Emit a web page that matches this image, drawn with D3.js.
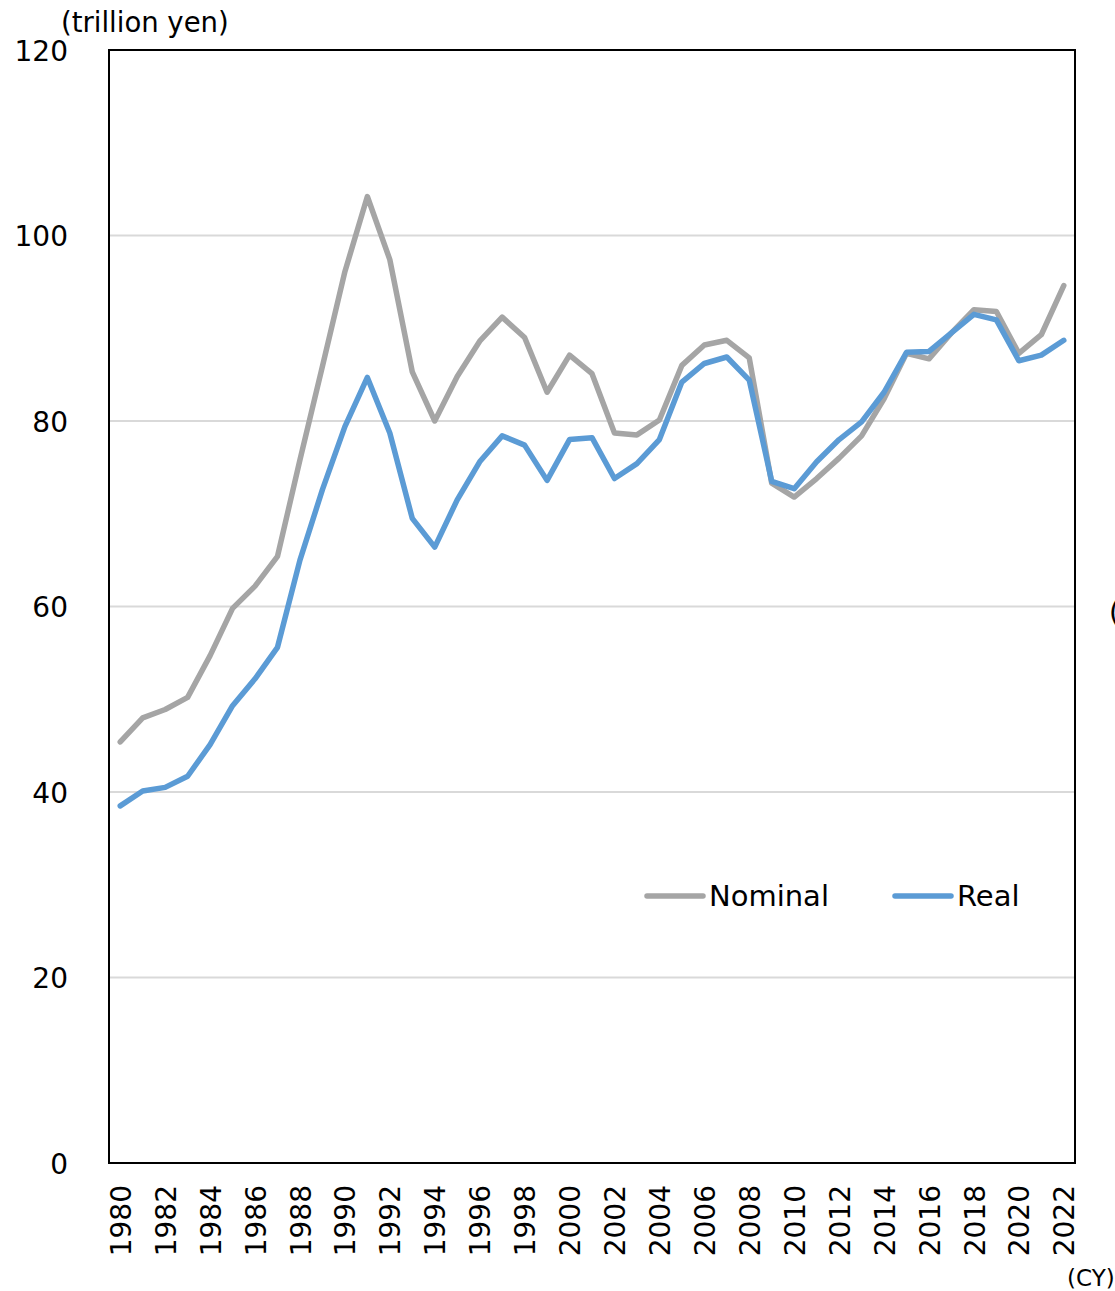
<!DOCTYPE html>
<html>
<head>
<meta charset="utf-8">
<script src="https://cdn.jsdelivr.net/npm/d3@7"></script>
<style>
  html, body { margin: 0; padding: 0; background: #fff; }
  svg { display: block; font-family: "DejaVu Sans", Verdana, sans-serif; }
</style>
</head>
<body>
<svg id="chart" width="1115" height="1291"></svg>
<script>
// Annual values, trillion yen
const years = d3.range(1980, 2023);
const nominal = [
  45.4, 48.0, 48.9, 50.2, 54.7, 59.8, 62.2, 65.4, 75.8, 85.9,
  96.1, 104.2, 97.4, 85.3, 80.0, 84.8, 88.6, 91.2, 89.0, 83.1,
  87.1, 85.1, 78.7, 78.5, 80.1, 86.0, 88.2, 88.7, 86.8, 73.3,
  71.8, 73.8, 76.0, 78.4, 82.4, 87.3, 86.7, 89.5, 92.0, 91.8,
  87.3, 89.3, 94.6
];
const real = [
  38.5, 40.1, 40.5, 41.7, 45.1, 49.3, 52.2, 55.6, 65.0, 72.6,
  79.4, 84.7, 78.7, 69.5, 66.4, 71.5, 75.6, 78.4, 77.4, 73.6,
  78.0, 78.2, 73.8, 75.4, 78.0, 84.2, 86.2, 86.9, 84.4, 73.5,
  72.7, 75.6, 78.0, 79.9, 83.1, 87.4, 87.5, 89.5, 91.5, 90.9,
  86.5, 87.1, 88.7
];
const yTicks = [0, 20, 40, 60, 80, 100, 120];
const xTickYears = years.filter(y => y % 2 === 0);
const seriesNames = ["Nominal", "Real"];
const seriesColors = ["#A5A5A5", "#5B9BD5"];

const svg = d3.select("#chart");
const plot = { left: 109, right: 1075, top: 50, bottom: 1163 };

const x = d3.scalePoint()
  .domain(years)
  .range([plot.left, plot.right])
  .padding(0.5);

const y = d3.scaleLinear()
  .domain([0, 120])
  .range([plot.bottom, plot.top]);

// horizontal gridlines
svg.append("g")
  .selectAll("line")
  .data(yTicks.filter(t => t > 0 && t < 120))
  .join("line")
  .attr("x1", plot.left).attr("x2", plot.right)
  .attr("y1", d => y(d)).attr("y2", d => y(d))
  .attr("stroke", "#D9D9D9")
  .attr("stroke-width", 2);

// y axis labels
const yAxis = d3.axisLeft(y).tickValues(yTicks).tickSize(0).tickPadding(40);
svg.append("g")
  .attr("transform", `translate(${plot.left},0)`)
  .call(yAxis)
  .call(g => g.select(".domain").remove())
  .call(g => g.selectAll("text")
    .attr("x", -41)
    .attr("dy", "0.36em")
    .attr("text-anchor", "end")
    .attr("fill", "#000")
    .style("font-size", "28px")
    .style("font-family", "'DejaVu Sans', Verdana, sans-serif"));

// x axis labels (rotated)
const xAxis = d3.axisBottom(x).tickValues(xTickYears).tickSize(0).tickFormat(d3.format("d"));
svg.append("g")
  .attr("transform", `translate(0,${plot.bottom})`)
  .call(xAxis)
  .call(g => g.select(".domain").remove())
  .call(g => g.selectAll("text")
    .attr("transform", "rotate(-90)")
    .attr("x", -22)
    .attr("y", 0)
    .attr("dy", "0.36em")
    .attr("text-anchor", "end")
    .attr("fill", "#000")
    .style("font-size", "28px")
    .style("font-family", "'DejaVu Sans', Verdana, sans-serif"));

// lines
const line = d3.line()
  .x((d, i) => x(years[i]))
  .y(d => y(d));

[nominal, real].forEach((vals, k) => {
  svg.append("path")
    .datum(vals)
    .attr("fill", "none")
    .attr("stroke", seriesColors[k])
    .attr("stroke-width", 5.5)
    .attr("stroke-linejoin", "round")
    .attr("stroke-linecap", "round")
    .attr("d", line);
});

// plot frame
svg.append("rect")
  .attr("x", plot.left).attr("y", plot.top)
  .attr("width", plot.right - plot.left)
  .attr("height", plot.bottom - plot.top)
  .attr("fill", "none")
  .attr("stroke", "#000")
  .attr("stroke-width", 2);

// legend
const legendX = [645, 893];
const legend = svg.append("g");
seriesNames.forEach((name, k) => {
  legend.append("line")
    .attr("x1", legendX[k] + 2).attr("x2", legendX[k] + 58)
    .attr("y1", 896).attr("y2", 896)
    .attr("stroke", seriesColors[k])
    .attr("stroke-width", 5.5)
    .attr("stroke-linecap", "round");
  legend.append("text")
    .attr("x", legendX[k] + 64)
    .attr("y", 906)
    .style("font-size", "29px")
    .attr("fill", "#000")
    .text(name);
});

// unit labels
svg.append("text")
  .attr("x", 61).attr("y", 32)
  .style("font-size", "27.5px")
  .attr("fill", "#000")
  .text("(trillion yen)");

svg.append("text")
  .attr("x", 1067).attr("y", 1286)
  .style("font-size", "23px")
  .attr("fill", "#000")
  .text("(CY)");

svg.append("text")
  .attr("x", 1109).attr("y", 622)
  .style("font-size", "28px")
  .attr("fill", "#000")
  .text("(");
</script>
</body>
</html>
